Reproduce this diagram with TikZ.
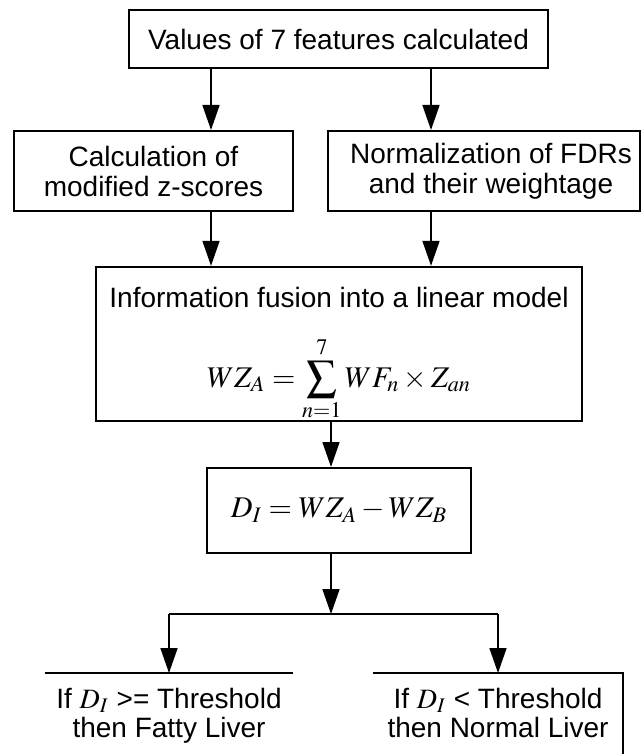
\documentclass[tikz,border=0pt]{standalone}
\usepackage{mathptmx}
\usepackage[no-math]{fontspec}
\setmainfont{Liberation Sans}
\usetikzlibrary{positioning,arrows.meta,calc}
\tikzset{
  box/.style   = {draw, line width=1pt, align=center, inner sep=0pt, font=\fontsize{14}{15}\selectfont},
  res/.style   = {anchor=north, align=center, inner xsep=0pt, inner ysep=7.3pt, font=\fontsize{14}{14.5}\selectfont},
  edge/.style  = {line width=1pt},
  flow/.style  = {-{Triangle[length=12.5pt,width=8.5pt]}, line width=0.8pt},
}
\newcommand{\eqsize}{\fontsize{15}{16}\selectfont}

\begin{document}
\begin{tikzpicture}[x=0.5pt, y=-0.5pt]
  \useasboundingbox (0,0) rectangle (641,754);
  % arrow columns
  \coordinate (ca) at (211,0);
  \coordinate (cb) at (431,0);
  \coordinate (cc) at (331,0);
  \coordinate (split) at (331,614);
  \coordinate (bot) at (0,770);
  \node[box, minimum width=209.5pt, minimum height=29pt] (val) at (338.5,39) {Values of 7 features calculated};
  \node[box, minimum width=139.5pt, minimum height=40pt] (zsc) at (153.5,171) {Calculation of\\modified z-scores};
  \node[box, minimum width=156pt, minimum height=40pt] (fdr) at (484,171) {\hspace*{7pt}Normalization of FDRs\\\hspace*{7pt}and their weightage};
  \node[box, minimum width=243pt, minimum height=75pt] (fus) at (339,344) {\rule{0pt}{20.5pt}Information fusion into a linear model\\[13.5pt]
    \eqsize$\displaystyle WZ_{A} = \sum_{n=1}^{7} WF_{n} \times Z_{an}$};
  \node[box, minimum width=132pt, minimum height=42.5pt] (dif) at (339,510.5) {\eqsize$D_{I} = WZ_{A} - WZ_{B}$};
  \node[res, minimum width=124pt] (fat) at (169,673) {If $D_{I}$ >= Threshold\\then Fatty Liver};
  \node[res, minimum width=125pt] (nor) at (498,673) {If $D_{I}$ < Threshold\\then Normal Liver};
  % partial outlines of the two outcomes
  \draw[edge] (fat.north west) -- (fat.north east);
  \draw[edge] (nor.north west) -- (nor.north east) -- (nor.north east |- bot);
  \draw[flow] (val.south -| ca) -- (zsc.north -| ca);
  \draw[flow] (val.south -| cb) -- (fdr.north -| cb);
  \draw[flow] (zsc.south -| ca) -- (fus.north -| ca);
  \draw[flow] (fdr.south -| cb) -- (fus.north -| cb);
  \draw[flow] (fus.south -| cc) -- (dif.north -| cc);
  \draw[flow] (dif.south -| cc) -- (split);
  \draw[line width=0.8pt] (split -| fat) -- (split -| nor);
  \draw[flow] (split -| fat) -- (fat.north);
  \draw[flow] (split -| nor) -- (nor.north);
\end{tikzpicture}
\end{document}
